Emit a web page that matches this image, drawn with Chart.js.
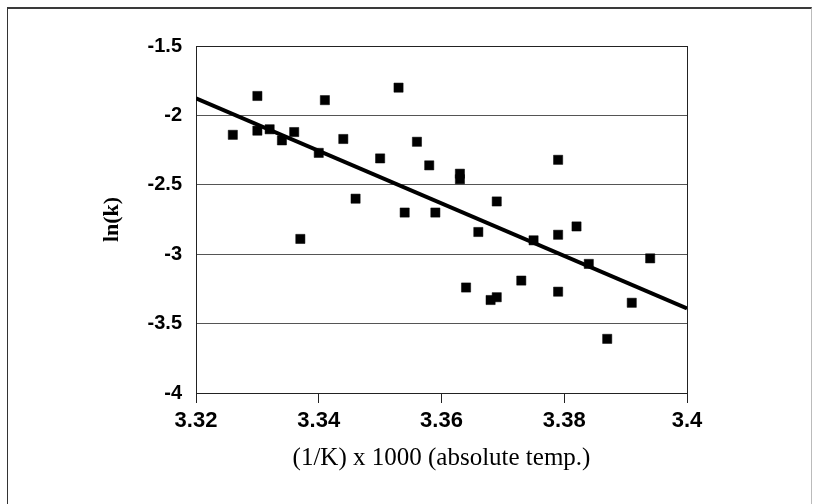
<!DOCTYPE html>
<html>
<head>
<meta charset="utf-8">
<script src="https://cdn.jsdelivr.net/npm/chart.js@4/dist/chart.umd.min.js"></script>
<style>
  html, body { margin: 0; padding: 0; background: #fff; }
  #wrap { position: relative; width: 820px; height: 504px; }
  #frame {
    position: absolute;
    left: 7px;
    top: 7px;
    width: 805px;
    height: 497px;
    border-top: 2px solid #3a3a3a;
    border-left: 1px solid #333;
    border-right: 1px solid #bbb;
    box-sizing: border-box;
    pointer-events: none;
  }
  canvas { position: absolute; left: 0; top: 0; }
</style>
</head>
<body>
<div id="wrap">
  <canvas id="arrheniusChart" width="820" height="504"></canvas>
  <div id="frame"></div>
</div>
<script>
// 1/T x 1000 and ln(k)
const invTemp = [3.326, 3.330, 3.330, 3.332, 3.334, 3.336, 3.337, 3.340, 3.341, 3.344,
  3.346, 3.350, 3.353, 3.354, 3.356, 3.358, 3.359, 3.363, 3.363, 3.364,
  3.366, 3.368, 3.369, 3.369, 3.373, 3.375, 3.379, 3.379, 3.379, 3.382,
  3.384, 3.387, 3.391, 3.394];
const lnK = [-2.14, -1.86, -2.11, -2.10, -2.18, -2.12, -2.89, -2.27, -1.89, -2.17,
  -2.60, -2.31, -1.80, -2.70, -2.19, -2.36, -2.70, -2.42, -2.46, -3.24,
  -2.84, -3.33, -3.31, -2.62, -3.19, -2.90, -2.32, -2.86, -3.27, -2.80,
  -3.07, -3.61, -3.35, -3.03];

// fitted line end points
const trendX = [3.32, 3.4];
const trendY = [-1.877, -3.39];

const xTicks = [3.32, 3.34, 3.36, 3.38, 3.4];
const yTicks = [-4, -3.5, -3, -2.5, -2, -1.5];

const points = invTemp.map((x, i) => ({ x, y: lnK[i] }));
const trend = trendX.map((x, i) => ({ x, y: trendY[i] }));

const tickFont = { family: "'Liberation Sans', Arial, sans-serif", weight: "bold" };

new Chart(document.getElementById("arrheniusChart"), {
  type: "scatter",
  data: {
    datasets: [
      {
        label: "ln(k)",
        data: points,
        pointStyle: "rect",
        pointRadius: 6.5,
        pointHoverRadius: 6.5,
        backgroundColor: "#000",
        borderColor: "#000",
        borderWidth: 0.5,
        order: 1,
      },
      {
        type: "line",
        label: "fit",
        data: trend,
        borderColor: "#000",
        borderWidth: 4,
        pointRadius: 0,
        fill: false,
        order: 2,
      },
    ],
  },
  options: {
    responsive: false,
    animation: false,
    events: [],
    layout: { padding: { left: 0, top: 46, right: 133, bottom: 0 } },
    plugins: {
      legend: { display: false },
      tooltip: { enabled: false },
    },
    scales: {
      x: {
        type: "linear",
        min: 3.32,
        max: 3.4,
        afterBuildTicks: (scale) => {
          scale.ticks = xTicks.map((v) => ({ value: v }));
        },
        afterFit: (scale) => {
          scale.height = 111;
        },
        ticks: {
          callback: (v) => String(Number(v.toFixed(2))),
          color: "#000",
          font: { ...tickFont, size: 22 },
          padding: 5,
          maxRotation: 0,
        },
        grid: {
          color: (ctx) => (ctx.tick && ctx.tick.value === 3.4 ? "#222" : "rgba(0,0,0,0)"),
          tickColor: "#222",
          tickLength: 10,
          lineWidth: 1,
        },
        border: { color: "#222", width: 1 },
        title: {
          display: true,
          text: "(1/K) x 1000 (absolute temp.)",
          color: "#000",
          font: { family: "'Liberation Serif', 'Times New Roman', serif", size: 25 },
          padding: { top: 0, bottom: 31 },
        },
      },
      y: {
        type: "linear",
        min: -4,
        max: -1.5,
        afterBuildTicks: (scale) => {
          scale.ticks = yTicks.map((v) => ({ value: v }));
        },
        afterFit: (scale) => {
          scale.width = 196;
        },
        ticks: {
          callback: (v) => String(v),
          color: "#000",
          font: { ...tickFont, size: 20 },
          padding: 14,
        },
        grid: {
          drawTicks: false,
          color: (ctx) => (ctx.tick && (ctx.tick.value === -1.5 || ctx.tick.value === -4) ? "#222" : "#555"),
          lineWidth: 1,
        },
        border: { color: "#222", width: 1 },
        title: {
          display: true,
          text: "ln(k)",
          color: "#000",
          font: { family: "'Liberation Serif', 'Times New Roman', serif", size: 22, weight: "bold" },
          padding: { top: 99, bottom: 0 },
        },
      },
    },
  },
});
</script>
</body>
</html>
